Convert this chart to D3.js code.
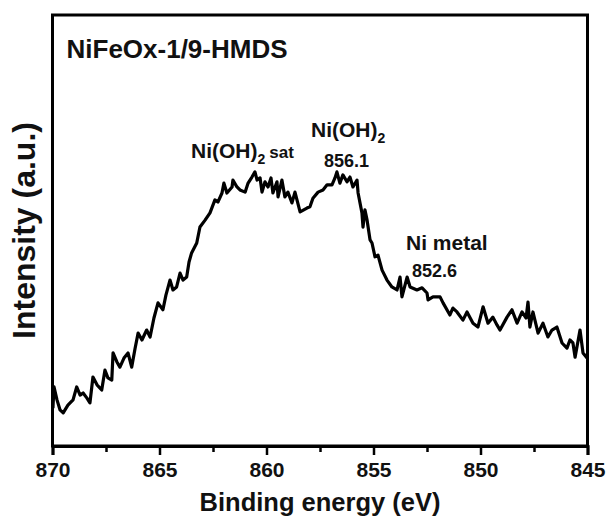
<!DOCTYPE html>
<html>
<head>
<meta charset="utf-8">
<script src="https://cdn.jsdelivr.net/npm/d3@7"></script>
<style>
  html, body { margin: 0; padding: 0; background: #fff; }
  svg { display: block; font-family: "Liberation Sans", Arial, sans-serif; }
</style>
</head>
<body>
<svg id="chart" width="608" height="517"></svg>
<script>
// Binding energy (eV) and intensity (a.u.)
const energy = [
  869.98, 869.93, 869.79, 869.65, 869.50, 869.28, 869.04, 868.87, 868.71, 868.57,
  868.39, 868.25, 868.11, 867.92, 867.70, 867.55, 867.41, 867.23, 867.17, 866.99,
  866.85, 866.66, 866.47, 866.30, 866.14, 866.00, 865.82, 865.60, 865.44, 865.26,
  865.07, 864.84, 864.70, 864.51, 864.37, 864.20, 864.04, 863.90, 863.73, 863.62,
  863.50, 863.26, 863.11, 862.87, 862.64, 862.41, 862.27, 862.08, 861.99, 861.85,
  861.61, 861.57, 861.38, 861.24, 861.00, 860.86, 860.68, 860.54, 860.44, 860.30,
  860.21, 860.07, 859.93, 859.79, 859.70, 859.51, 859.46, 859.28, 859.14, 859.00,
  858.81, 858.67, 858.43, 858.11, 857.97, 857.83, 857.59, 857.36, 857.17, 856.94,
  856.80, 856.71, 856.57, 856.43, 856.24, 856.10, 855.96, 855.77, 855.72, 855.54,
  855.49, 855.40, 855.30, 855.16, 855.07, 854.93, 854.79, 854.60, 854.37, 854.14,
  853.90, 853.76, 853.67, 853.43, 853.29, 852.97, 852.73, 852.50, 852.45, 852.22,
  851.89, 851.75, 851.43, 851.29, 851.10, 850.82, 850.63, 850.35, 850.12, 849.88,
  849.65, 849.42, 849.23, 849.09, 848.76, 848.53, 848.29, 848.06, 847.87, 847.78,
  847.69, 847.55, 847.31, 847.08, 846.85, 846.66, 846.43, 846.19, 845.96, 845.82,
  845.68, 845.58, 845.35, 845.21, 845.02
];
const intensity = [
  8.8, 13.7, 10.7, 8.4, 7.7, 9.5, 10.7, 13.7, 11.8, 12.3,
  11.1, 10.0, 16.0, 14.2, 13.0, 17.6, 15.8, 15.3, 21.6, 19.5,
  18.3, 20.4, 21.6, 18.3, 22.7, 26.2, 24.6, 26.9, 25.3, 29.7,
  33.2, 31.6, 35.0, 38.5, 36.2, 36.9, 40.1, 38.5, 39.2, 42.7,
  44.8, 47.1, 50.8, 52.4, 54.1, 57.1, 56.6, 58.7, 61.0, 58.7,
  60.1, 61.7, 60.1, 59.4, 58.9, 61.0, 62.4, 63.6, 61.7, 62.2,
  58.9, 61.3, 60.1, 62.2, 58.7, 61.3, 57.8, 61.7, 57.8, 58.9,
  56.4, 58.9, 54.3, 55.2, 55.5, 57.5, 58.9, 59.4, 60.6, 60.6,
  62.2, 63.6, 61.0, 62.9, 61.3, 62.4, 60.1, 61.7, 58.7, 54.1,
  50.8, 54.8, 52.4, 47.8, 47.1, 43.9, 44.3, 40.8, 38.5, 36.9,
  36.2, 39.2, 34.6, 39.2, 36.9, 36.2, 36.7, 35.5, 33.9, 34.6,
  34.6, 33.2, 30.4, 32.0, 31.1, 29.2, 31.1, 28.5, 27.6, 32.3,
  28.5, 29.9, 28.1, 26.9, 29.9, 31.6, 28.5, 31.1, 29.7, 33.4,
  27.6, 31.1, 26.2, 28.5, 25.3, 26.9, 27.6, 23.9, 22.7, 24.6,
  23.9, 20.6, 26.9, 21.6, 20.4
];
const xTicks = [870, 865, 860, 855, 850, 845];
const xMinorTicks = [867.5, 862.5, 857.5, 852.5, 847.5];
const xDomain = [870, 845];
const yDomain = [0, 100];
const titleText = "NiFeOx-1/9-HMDS";
const xLabel = "Binding energy (eV)";
const yLabel = "Intensity (a.u.)";

const svg = d3.select("#chart");
const mLeft = 52.5, mRight = 587.5, mTop = 15, mBottom = 446;

const x = d3.scaleLinear().domain(xDomain).range([mLeft, mRight]);
const y = d3.scaleLinear().domain(yDomain).range([mBottom, mTop]);

const data = energy.map((e, i) => ({ e, v: intensity[i] }));

// curve
svg.append("path")
  .datum(data)
  .attr("fill", "none")
  .attr("stroke", "#000")
  .attr("stroke-width", 3.2)
  .attr("stroke-linejoin", "round")
  .attr("d", d3.line().x(d => x(d.e)).y(d => y(d.v)));

// frame
svg.append("rect")
  .attr("x", mLeft).attr("y", mTop)
  .attr("width", mRight - mLeft).attr("height", mBottom - mTop)
  .attr("fill", "none").attr("stroke", "#000").attr("stroke-width", 3);

// x axis: major ticks
const xAxis = d3.axisBottom(x).tickValues(xTicks).tickSize(9).tickPadding(7)
  .tickFormat(d3.format("d"));
const gx = svg.append("g").attr("transform", `translate(0,${mBottom})`).call(xAxis);
gx.select(".domain").attr("stroke-width", 3);
gx.selectAll(".tick line").attr("stroke-width", 2.5);
gx.selectAll(".tick text")
  .attr("font-family", "'Liberation Sans', Arial, sans-serif")
  .attr("font-size", 21).attr("font-weight", "bold").attr("fill", "#111");

// minor ticks
const xAxisMinor = d3.axisBottom(x).tickValues(xMinorTicks).tickSize(6).tickFormat("");
const gxm = svg.append("g").attr("transform", `translate(0,${mBottom})`).call(xAxisMinor);
gxm.select(".domain").remove();
gxm.selectAll(".tick line").attr("stroke-width", 2.5);

// axis titles
svg.append("text")
  .attr("x", (mLeft + mRight) / 2).attr("y", 510.5)
  .attr("text-anchor", "middle")
  .attr("font-size", 25.5).attr("font-weight", "bold").attr("fill", "#111")
  .text(xLabel);

svg.append("text")
  .attr("transform", `translate(35,${(mTop + mBottom) / 2}) rotate(-90)`)
  .attr("text-anchor", "middle")
  .attr("font-size", 32).attr("font-weight", "bold").attr("fill", "#111")
  .text(yLabel);

// sample title
svg.append("text")
  .attr("x", 66.5).attr("y", 58)
  .attr("font-size", 26).attr("font-weight", "bold").attr("fill", "#111")
  .text(titleText);

// annotations
const ann1 = svg.append("text").attr("x", 191).attr("y", 158)
  .attr("font-size", 21).attr("font-weight", "bold").attr("fill", "#111");
ann1.append("tspan").text("Ni(OH)");
ann1.append("tspan").attr("font-size", 14).attr("dy", 6).text("2");
ann1.append("tspan").attr("font-size", 17).attr("dy", -6).attr("dx", 4).text("sat");

const ann2 = svg.append("text").attr("x", 311).attr("y", 137)
  .attr("font-size", 21).attr("font-weight", "bold").attr("fill", "#111");
ann2.append("tspan").text("Ni(OH)");
ann2.append("tspan").attr("font-size", 14).attr("dy", 6).text("2");

svg.append("text").attr("x", 324).attr("y", 167)
  .attr("font-size", 18).attr("font-weight", "bold").attr("fill", "#111")
  .text("856.1");

svg.append("text").attr("x", 406).attr("y", 250)
  .attr("font-size", 21).attr("font-weight", "bold").attr("fill", "#111")
  .text("Ni metal");

svg.append("text").attr("x", 412).attr("y", 277)
  .attr("font-size", 18).attr("font-weight", "bold").attr("fill", "#111")
  .text("852.6");
</script>
</body>
</html>
